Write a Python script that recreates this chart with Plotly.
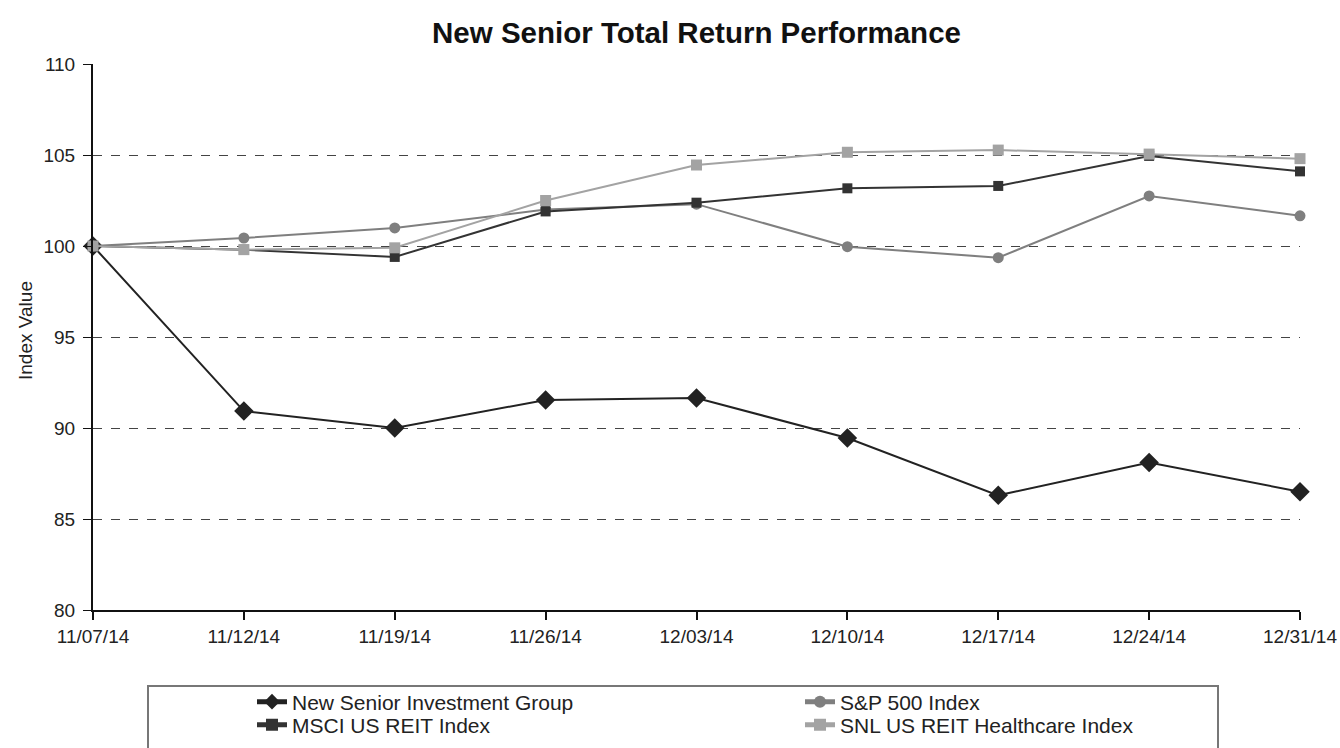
import plotly.graph_objects as go

dates = ["11/07/14", "11/12/14", "11/19/14", "11/26/14", "12/03/14",
         "12/10/14", "12/17/14", "12/24/14", "12/31/14"]
new_senior = [100, 90.93, 90.0, 91.54, 91.65, 89.45, 86.3, 88.1, 86.5]
sp500 = [100, 100.44, 100.99, 102.0, 102.3, 99.96, 99.36, 102.75, 101.66]
msci_reit = [100, 99.8, 99.4, 101.9, 102.38, 103.17, 103.3, 104.95, 104.1]
snl_health = [100, 99.8, 99.9, 102.5, 104.45, 105.15, 105.27, 105.05, 104.8]

FONT = "Arial, 'Liberation Sans', sans-serif"
W, H = 1340, 748
L, R, T, B = 93, 40, 64, 138
PW, PH = W - L - R, H - T - B

def px_x(x):
    return (x - L) / PW

def px_y(y):
    return (H - B - y) / PH

def cx(px):
    return px / W

def cy(py):
    return 1 - py / H

x = list(range(len(dates)))

series = [
    ("New Senior Investment Group", new_senior, "#222222", "diamond", 15, "legend"),
    ("S&P 500 Index", sp500, "#7f7f7f", "circle", 11, "legend2"),
    ("MSCI US REIT Index", msci_reit, "#333333", "square", 10, "legend3"),
    ("SNL US REIT Healthcare Index", snl_health, "#a3a3a3", "square", 11, "legend4"),
]

fig = go.Figure()
for name, vals, color, sym, size, leg in series:
    fig.add_trace(go.Scatter(
        x=x, y=vals, name=name, mode="lines+markers",
        line=dict(color=color, width=2),
        marker=dict(symbol=sym, size=size, color=color),
        cliponaxis=False, legend=leg, showlegend=True,
    ))

leg_common = dict(bgcolor="rgba(0,0,0,0)", borderwidth=0,
                  font=dict(family=FONT, size=21, color="#222"),
                  xref="container", yref="container", itemsizing="constant",
                  xanchor="left", yanchor="middle", itemwidth=30)

fig.update_layout(
    width=W, height=H, showlegend=True,
    margin=dict(l=L, r=R, t=T, b=B, autoexpand=False),
    paper_bgcolor="white", plot_bgcolor="white",
    title=dict(text="<b>New Senior Total Return Performance</b>",
               font=dict(family=FONT, size=29.5, color="#111"),
               x=(L + PW / 2) / W, xanchor="center",
               y=1 - 33 / H, yanchor="middle"),
    xaxis=dict(range=[0, 8], tickvals=x, ticktext=dates, tickangle=0,
               showgrid=False, zeroline=False,
               showline=True, linecolor="#111", linewidth=2,
               ticks="outside", ticklen=8, tickcolor="#111", tickwidth=1.5,
               tickfont=dict(family=FONT, size=19, color="#222")),
    yaxis=dict(range=[80, 110], tickvals=[80, 85, 90, 95, 100, 105, 110],
               showgrid=True, gridcolor="#444", griddash="dash", gridwidth=1,
               zeroline=False, showline=True, linecolor="#111", linewidth=2,
               ticks="outside", ticklen=8, tickcolor="#111",
               ticklabelstandoff=4,
               tickfont=dict(family=FONT, size=19, color="#222")),
    annotations=[dict(text="Index Value", textangle=-90, showarrow=False,
                      xref="paper", yref="paper",
                      x=px_x(25), y=px_y(331), xanchor="center", yanchor="middle",
                      font=dict(family=FONT, size=19, color="#222"))],
    legend=dict(x=cx(252), y=cy(702), **leg_common),
    legend2=dict(x=cx(800), y=cy(702), **leg_common),
    legend3=dict(x=cx(252), y=cy(725), **leg_common),
    legend4=dict(x=cx(800), y=cy(725), **leg_common),
    shapes=[dict(type="rect", xref="paper", yref="paper",
                 x0=px_x(148), x1=px_x(1218), y0=px_y(686), y1=px_y(790),
                 line=dict(color="#777", width=2), fillcolor="rgba(0,0,0,0)")],
)

fig.write_html("out.html")
